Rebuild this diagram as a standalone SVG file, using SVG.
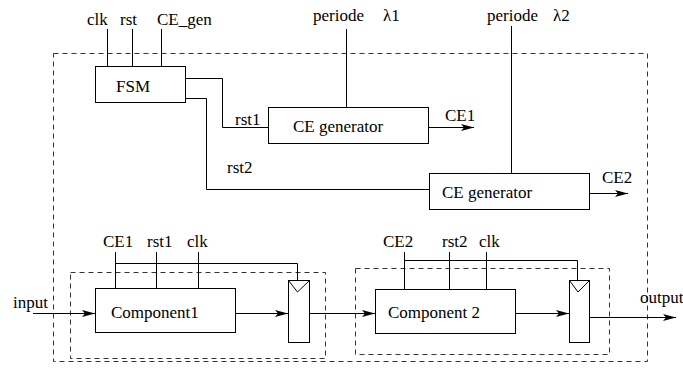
<svg xmlns="http://www.w3.org/2000/svg" width="683" height="372" viewBox="0 0 683 372" font-family="'Liberation Serif', 'Times New Roman', 'DejaVu Serif', serif" font-size="17">
<style>
text{font-family:'Liberation Serif','Times New Roman','DejaVu Serif',serif;font-size:17px;fill:#000}
.box{fill:#fff;stroke:#000;stroke-width:1}
.dash{fill:none;stroke:#333;stroke-width:1;stroke-dasharray:5,4}
.ln{fill:none;stroke:#000;stroke-width:1}
.ar{fill:none;stroke:#000;stroke-width:1;marker-end:url(#arr)}
</style>
<defs>
<marker id="arr" markerUnits="userSpaceOnUse" markerWidth="14" markerHeight="8" refX="13" refY="3.5" orient="auto">
<path d="M0,0 L13,3.5 L0,7 L3,3.5 z" fill="#000"/>
</marker>
</defs>
<rect id="outer" class="dash" x="53.5" y="53.5" width="594" height="308"/>
<rect id="inner1" class="dash" x="70.5" y="272.5" width="255" height="86"/>
<rect id="inner2" class="dash" x="355.5" y="268.5" width="254" height="86"/>
<g id="connectors">
<path class="ln" d="M107.5,29 V66 M132.5,29 V66 M161.5,29 V66"/>
<path class="ln" d="M186,78.5 H222.5 V127.5 H268"/>
<path class="ln" d="M186,98.5 H206.5 V189.5 H429"/>
<path class="ln" d="M346.5,29 V107"/>
<path class="ln" d="M511.5,26 V173"/>
<path class="ar" d="M429,127.5 H474"/>
<path class="ar" d="M589,193.5 H628"/>
<path class="ln" d="M115.5,252 V288 M156.5,252 V288 M198.5,252 V288"/>
<path class="ln" d="M115.5,263.5 H297.5 V280"/>
<path class="ln" d="M404.5,252 V289 M449.5,252 V289 M486.5,252 V289"/>
<path class="ln" d="M404.5,260.5 H577.5 V280"/>
<path class="ar" d="M33,313.5 H95"/>
<path class="ar" d="M236,313.5 H288"/>
<path class="ar" d="M309,313.5 H375"/>
<path class="ar" d="M515,313.5 H569"/>
<path class="ar" d="M589,317.5 H676"/>
</g>
<g id="inputs-top">
<text x="87" y="25">clk</text>
<text x="120" y="25">rst</text>
<text x="157" y="25">CE_gen</text>
<text x="313" y="21">periode</text>
<text x="383" y="21">λ1</text>
<text x="487" y="21">periode</text>
<text x="553" y="21">λ2</text>
<text x="235" y="125">rst1</text>
<text x="227" y="173">rst2</text>
<text x="445" y="120.5">CE1</text>
<text x="602" y="183">CE2</text>
</g>
<g id="fsm">
<rect class="box" x="95.5" y="66.5" width="90" height="36"/>
<text x="116" y="91.5">FSM</text>
</g>
<g id="cegen1">
<rect class="box" x="268.5" y="107.5" width="160" height="36"/>
<text x="293" y="132">CE generator</text>
</g>
<g id="cegen2">
<rect class="box" x="429.5" y="173.5" width="160" height="36"/>
<text x="442" y="198">CE generator</text>
</g>
<g id="comp1">
<rect class="box" x="95.5" y="288.5" width="140" height="44"/>
<text x="111" y="318">Component1</text>
<text x="103" y="247">CE1</text>
<text x="147" y="247">rst1</text>
<text x="187" y="247">clk</text>
<text x="13" y="308">input</text>
</g>
<g id="reg1">
<rect class="box" x="288.5" y="280.5" width="21" height="62"/>
<path class="ln" d="M288.5,280.5 L297.5,292 L309.5,280.5"/>
</g>
<g id="comp2">
<rect class="box" x="375.5" y="289.5" width="140" height="44"/>
<text x="388" y="318">Component 2</text>
<text x="383" y="247">CE2</text>
<text x="442" y="247">rst2</text>
<text x="479" y="247">clk</text>
</g>
<g id="reg2">
<rect class="box" x="569.5" y="280.5" width="20" height="62"/>
<path class="ln" d="M569.5,280.5 L578,292 L589.5,280.5"/>
<text x="640" y="303">output</text>
</g>
</svg>
